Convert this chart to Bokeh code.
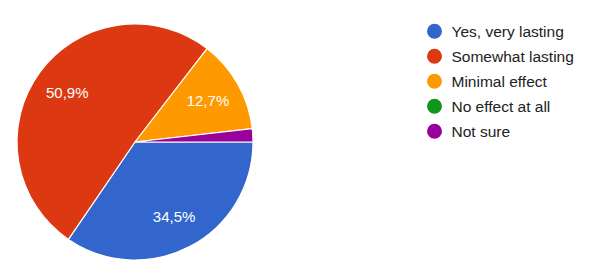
import math
from bokeh.plotting import figure
from bokeh.models import Range1d, ColumnDataSource
from bokeh.core.properties import value
from bokeh.embed import file_html
from bokeh.resources import INLINE

categories = ["Yes, very lasting", "Somewhat lasting", "Minimal effect", "No effect at all", "Not sure"]
counts = [19, 28, 7, 0, 1]
colors = ["#3366cc", "#dc3912", "#ff9900", "#109618", "#990099"]

W, H = 605, 273
cx, cy, R = 134.5, H - 141.5, 118

p = figure(width=W, height=H, x_range=Range1d(0, W), y_range=Range1d(0, H),
           output_backend="svg", toolbar_location=None, min_border=0)
p.axis.visible = False
p.grid.visible = False
p.outline_line_color = None
p.background_fill_color = "white"

total = sum(counts)
starts, ends, cols, lx, ly, labels = [], [], [], [], [], []
cum = 0.0
for c, col in zip(counts, colors):
    frac = c / total
    a0, a1 = cum, cum + frac
    cum = a1
    if c == 0:
        continue
    starts.append(-2 * math.pi * a0)
    ends.append(-2 * math.pi * a1)
    cols.append(col)
    if frac >= 0.05:
        mid = -2 * math.pi * (a0 + a1) / 2
        lx.append(cx + 0.71 * R * math.cos(mid))
        ly.append(cy + 0.71 * R * math.sin(mid))
        labels.append(("%.1f%%" % (frac * 100)).replace(".", ","))

src = ColumnDataSource(dict(start=starts, end=ends, color=cols))
p.wedge(x=cx, y=cy, radius=R, start_angle="start", end_angle="end", direction="clock",
        fill_color="color", line_color="white", line_width=1.2, source=src)

p.text(x=lx, y=ly, text=labels, text_color="white", text_font=value("Liberation Sans"),
       text_font_size="15px", text_align="center", text_baseline="middle")

# legend
ys = [H - (30.7 + 25 * i) for i in range(len(categories))]
p.scatter(x=[434] * len(categories), y=ys, size=15, fill_color=colors, line_color=None)
p.text(x=[451] * len(categories), y=ys, text=categories, text_color="#222222",
       text_font=value("Liberation Sans"), text_font_size="15.5px",
       text_align="left", text_baseline="middle")

open("out.html", "w").write(file_html(p, INLINE))
